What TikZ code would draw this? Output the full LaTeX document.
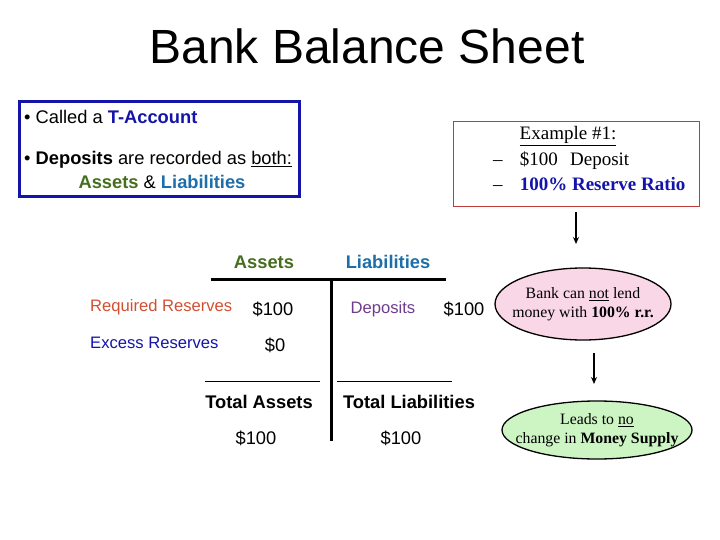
\documentclass[tikz,border=0pt]{standalone}
\usepackage{fontspec}
\setmainfont{Liberation Sans}
\newfontfamily\serifx[Ligatures=TeX]{Liberation Serif}
\usetikzlibrary{shapes.geometric,arrows.meta}
\definecolor{tblue}{RGB}{20,20,170}
\definecolor{agreen}{RGB}{70,110,30}
\definecolor{lblue}{RGB}{30,110,170}
\definecolor{rred}{RGB}{210,80,50}
\definecolor{dpurple}{RGB}{110,60,140}
\definecolor{boxred}{RGB}{190,60,60}
\definecolor{pinkf}{RGB}{250,215,230}
\definecolor{greenf}{RGB}{205,245,195}
\tikzset{
 t/.style={inner sep=0pt,font=\fontsize{18.3}{21}\selectfont},
 ts/.style={inner sep=0pt,font=\fontsize{16.6}{19}\selectfont},
 sr/.style={inner sep=0pt,font=\serifx\fontsize{19}{22}\selectfont},
 ell/.style={ellipse,draw,line width=1.3pt,inner sep=0pt},
 ellt/.style={inner sep=0pt,align=center,font=\serifx\fontsize{15.8}{19}\selectfont},
 arr/.style={-{Stealth[length=7pt,width=6pt]},line width=1.2pt}
}
\begin{document}
\begin{tikzpicture}[x=1pt,y=-1pt]
\useasboundingbox (0,0) rectangle (720,540);
\node[inner sep=0pt,font=\fontsize{48}{54}\selectfont] (title) at (367,46) {Bank Balance Sheet};
\draw[tblue,line width=3pt] (19,102) rectangle (299,197);
\node[t,anchor=west] (b1) at (24,117) {\textbullet\ Called a \textbf{\textcolor{tblue}{T-Account}}};
\node[t,anchor=west] (b2) at (24,160) {\textbullet\ \textbf{Deposits} are recorded as \underline{both:}};
\node[t] (b3) at (162,182) {\textbf{\textcolor{agreen}{Assets}} \& \textbf{\textcolor{lblue}{Liabilities}}};
\draw[boxred,line width=0.8pt] (453,121) rectangle (699,206);
\node[sr] (ex) at (568,136) {\underline{Example \#1:}};
\node[sr,anchor=west] (e1) at (493,161) {\textendash\hspace{0.9em}\$100\hspace{0.4em} Deposit};
\node[sr,anchor=west] (e2) at (493,184) {\textendash\hspace{0.9em}\textcolor{tblue}{\textbf{100\% Reserve Ratio}}};
% T-account
\node[t] (as) at (264,262) {\textbf{\textcolor{agreen}{Assets}}};
\node[t] (li) at (388,262) {\textbf{\textcolor{lblue}{Liabilities}}};
\coordinate (tl) at (211,279); \coordinate (tr) at (446,279);
\coordinate (vt) at (331,279); \coordinate (vb) at (331,441);
\draw[line width=3pt] (tl) -- (tr);
\draw[line width=3pt] (vt) -- (vb);
\node[ts,anchor=west] (rr) at (90,307) {\textcolor{rred}{Required Reserves}};
\node[t] (rv) at (273,309) {\$100};
\node[ts,anchor=west] (er) at (90,343) {\textcolor{tblue}{Excess Reserves}};
\node[t] (ev) at (275,345) {\$0};
\node[ts] (dp) at (383,309) {\textcolor{dpurple}{Deposits}};
\node[t] (dv) at (464,309) {\$100};
\coordinate (u1a) at (205,381); \coordinate (u1b) at (320,381);
\coordinate (u2a) at (337,381); \coordinate (u2b) at (452,381);
\draw[line width=0.6pt] (u1a) -- (u1b);
\draw[line width=0.6pt] (u2a) -- (u2b);
\node[t] (ta) at (259,402) {\textbf{Total Assets}};
\node[t] (tlab) at (409,402) {\textbf{Total Liabilities}};
\node[t] (tav) at (256,438) {\$100};
\node[t] (tlv) at (401,438) {\$100};
% flow
\node[ell,fill=pinkf,minimum width=176pt,minimum height=72pt] (e1l) at (583,304) {};
\node[ellt] (e1t) at (e1l.center) {Bank can \underline{not} lend\\money with \textbf{100\% r.r.}};
\node[ell,fill=greenf,minimum width=190pt,minimum height=58pt] (e2l) at (597,430) {};
\node[ellt] (e2t) at (e2l.center) {Leads to \underline{no}\\change in \textbf{Money Supply}};
\coordinate (a1s) at (576,212); \coordinate (a1e) at (576,244);
\draw[arr] (a1s) -- (a1e);
\coordinate (a2s) at (594,353); \coordinate (a2e) at (594,384);
\draw[arr] (a2s) -- (a2e);
\end{tikzpicture}
\end{document}
